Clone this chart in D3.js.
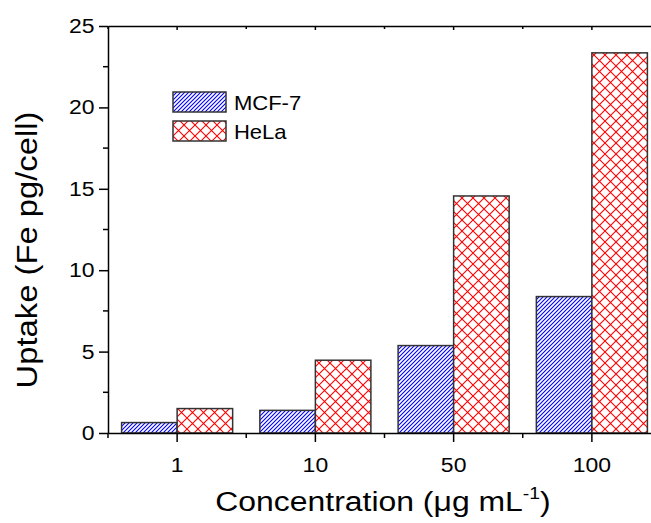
<!DOCTYPE html>
<meta charset="utf-8">
<style>
body { margin: 0; background: #fff; }
text { font-family: "Liberation Sans", Arial, sans-serif; fill: #000; }
</style>
<svg id="chart" width="651" height="523"></svg>
<script src="https://d3js.org/d3.v7.min.js"></script>
<script>

var categories = ["1", "10", "50", "100"];
var seriesNames = ["MCF-7", "HeLa"];
var mcf7 = [0.64, 1.39, 5.37, 8.38];
var hela = [1.5, 4.47, 14.56, 23.35];
var yTicks = [0, 5, 10, 15, 20, 25];

var svg = d3.select("#chart");
var plotLeft = 108, plotRight = 661, plotTop = 26, plotBottom = 433;

// patterns
var defs = svg.append("defs");
var p1 = defs.append("pattern")
  .attr("id", "hatchBlue")
  .attr("patternUnits", "userSpaceOnUse")
  .attr("width", 8).attr("height", 8);
p1.append("rect").attr("width", 8).attr("height", 8).attr("fill", "#fff");
p1.append("path")
  .attr("d", "M-4,4 L4,-4 M-4,8 L8,-4 M-4,12 L12,-4 M0,12 L12,0 M4,12 L12,4")
  .attr("stroke", "#0000ff").attr("stroke-width", 1.1);

var p2 = defs.append("pattern")
  .attr("id", "hatchRed")
  .attr("patternUnits", "userSpaceOnUse")
  .attr("width", 11).attr("height", 11);
p2.append("rect").attr("width", 11).attr("height", 11).attr("fill", "#fff");
p2.append("path").attr("d", "M0,0 L11,11 M0,11 L11,0")
  .attr("stroke", "#ff0000").attr("stroke-width", 1.1);

var fills = ["url(#hatchBlue)", "url(#hatchRed)"];

var x = d3.scaleBand().domain(categories).range([plotLeft, plotRight]);
var xInner = d3.scaleBand().domain(seriesNames).range([0, x.bandwidth()]).paddingOuter(0.245);
var y = d3.scaleLinear().domain([0, 25]).range([plotBottom, plotTop]);

var data = [mcf7, hela];

// bars
data.forEach(function(vals, s) {
  svg.append("g").selectAll("rect")
    .data(vals)
    .enter().append("rect")
      .attr("x", function(d, i) { return x(categories[i]) + xInner(seriesNames[s]); })
      .attr("y", function(d) { return y(d); })
      .attr("width", xInner.bandwidth())
      .attr("height", function(d) { return plotBottom - y(d); })
      .attr("fill", fills[s])
      .attr("stroke", "#333")
      .attr("stroke-width", 1.5);
});

// y axis
var yAxis = svg.append("g")
  .attr("transform", "translate(" + plotLeft + ",0)")
  .call(d3.axisLeft(y).tickValues(yTicks).tickSize(9).tickPadding(3).tickSizeOuter(0));
yAxis.select(".domain").attr("stroke-width", 1.5);
yAxis.selectAll(".tick line").attr("stroke-width", 1.5);
yAxis.selectAll("text").style("font-size", "20.5px").attr("transform", "scale(1.12,1)");
yAxis.selectAll(".minor").data(d3.range(2.5, 25, 5)).enter().append("line")
  .attr("class", "minor")
  .attr("x1", 0).attr("x2", -5)
  .attr("y1", function(d) { return y(d); }).attr("y2", function(d) { return y(d); })
  .attr("stroke", "#000").attr("stroke-width", 1.5);

// x axis
var xAxis = svg.append("g")
  .attr("transform", "translate(0," + plotBottom + ")")
  .call(d3.axisBottom(x).tickSize(9).tickPadding(15).tickSizeOuter(0));
xAxis.select(".domain").attr("stroke-width", 1.5);
xAxis.selectAll(".tick line").attr("stroke-width", 1.5);
xAxis.selectAll("text").style("font-size", "20.5px").attr("transform", "scale(1.12,1)");
xAxis.selectAll(".minor").data(categories).enter().append("line")
  .attr("class", "minor")
  .attr("x1", function(d) { return x(d); }).attr("x2", function(d) { return x(d); })
  .attr("y1", 0).attr("y2", 5)
  .attr("stroke", "#000").attr("stroke-width", 1.5);

// top frame
var topAxis = svg.append("g")
  .attr("transform", "translate(0," + plotTop + ")")
  .call(d3.axisBottom(x).tickSize(4).tickSizeOuter(0).tickFormat(""));
topAxis.select(".domain").attr("stroke-width", 1.5);
topAxis.selectAll(".tick line").attr("stroke-width", 1.5);
topAxis.selectAll(".minor").data(categories).enter().append("line")
  .attr("class", "minor")
  .attr("x1", function(d) { return x(d); }).attr("x2", function(d) { return x(d); })
  .attr("y1", 0).attr("y2", 3)
  .attr("stroke", "#000").attr("stroke-width", 1.5);

// axis titles (slightly widened like the original export)
svg.append("text")
  .attr("transform", "translate(37,250) rotate(-90) scale(1.13,1)")
  .attr("text-anchor", "middle")
  .style("font-size", "29px")
  .text("Uptake (Fe pg/cell)");

var xt = svg.append("text")
  .attr("transform", "translate(383,511) scale(1.14,1)")
  .attr("text-anchor", "middle")
  .style("font-size", "28px");
xt.append("tspan").text("Concentration (\u03bcg mL");
xt.append("tspan").attr("dy", -12).style("font-size", "17px").text("-1");
xt.append("tspan").attr("dy", 12).text(")");

// legend
var legend = svg.append("g").attr("transform", "translate(173,92)");
seriesNames.forEach(function(name, i) {
  legend.append("rect")
    .attr("x", 0).attr("y", i * 29)
    .attr("width", 53).attr("height", 20)
    .attr("fill", fills[i])
    .attr("stroke", "#333").attr("stroke-width", 1.5);
  legend.append("text")
    .attr("x", 58).attr("y", i * 29 + 18)
    .attr("transform", "scale(1.05,1)")
    .style("font-size", "21px")
    .text(name);
});
</script>
